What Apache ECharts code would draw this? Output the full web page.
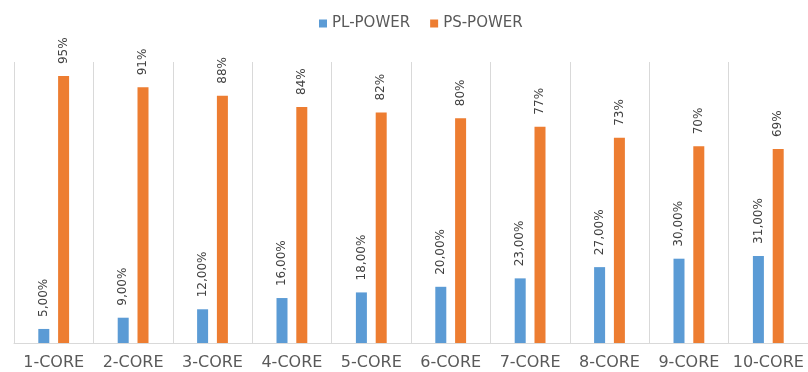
<!DOCTYPE html>
<html>
<head>
<meta charset="utf-8">
<script src="https://cdn.jsdelivr.net/npm/echarts@6/dist/echarts.min.js"></script>
<style>
  html, body { margin: 0; padding: 0; background: #fff; }
  #chart { width: 808px; height: 372px; }
</style>
</head>
<body>
<div id="chart"></div>
<script>
// 数据
var categories = ['1-CORE', '2-CORE', '3-CORE', '4-CORE', '5-CORE', '6-CORE', '7-CORE', '8-CORE', '9-CORE', '10-CORE'];
var plPower = [5, 9, 12, 16, 18, 20, 23, 27, 30, 31];
var psPower = [95, 91, 88, 84, 82, 80, 77, 73, 70, 69];

var chart = echarts.init(document.getElementById('chart'));

// 柱子上的竖排标签
function barLabel(fmt) {
    return {
        show: true,
        position: 'top',
        rotate: 90,
        align: 'left',
        verticalAlign: 'middle',
        distance: 12,
        color: '#404040',
        fontSize: 12,
        fontFamily: 'DejaVu Sans',
        formatter: fmt
    };
}

var option = {
    animation: false,
    legend: {
        top: 11,
        left: 314,
        itemWidth: 8,
        itemHeight: 8,
        itemGap: 20,
        icon: 'rect',
        textStyle: { color: '#595959', fontSize: 15, fontFamily: 'DejaVu Sans' },
        data: ['PL-POWER', 'PS-POWER']
    },
    grid: { left: 14, top: 62, width: 795, height: 281, containLabel: false },
    xAxis: {
        type: 'category',
        data: categories,
        axisLine: { lineStyle: { color: '#d9d9d9' } },
        axisTick: { show: false },
        splitLine: { show: true, interval: 0, lineStyle: { color: '#d9d9d9' } },
        axisLabel: { interval: 0, color: '#595959', fontSize: 16, fontFamily: 'DejaVu Sans', margin: 12 }
    },
    yAxis: {
        type: 'value',
        min: 0,
        max: 100,
        show: false
    },
    series: [{
        name: 'PL-POWER',
        type: 'bar',
        data: plPower,
        barWidth: 11,
        barGap: '80%',
        itemStyle: { color: '#5b9bd5' },
        label: barLabel(function (p) { return p.value.toFixed(2).replace('.', ',') + '%'; })
    }, {
        name: 'PS-POWER',
        type: 'bar',
        data: psPower,
        barWidth: 11,
        barGap: '80%',
        itemStyle: { color: '#ed7d31' },
        label: barLabel(function (p) { return p.value + '%'; })
    }]
};

chart.setOption(option);
</script>
</body>
</html>
